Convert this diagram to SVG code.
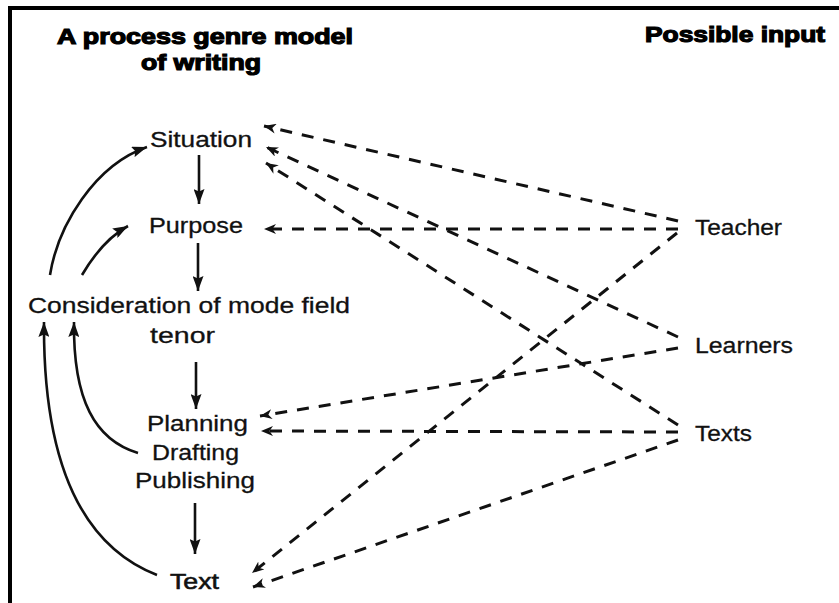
<svg xmlns="http://www.w3.org/2000/svg" width="839" height="603" viewBox="0 0 839 603">
<style>
.t{font-family:"Liberation Sans",Arial,sans-serif;font-size:22px;fill:#111;stroke:#111;stroke-width:0.3}
.h{font-family:"Liberation Sans",Arial,sans-serif;font-size:22px;font-weight:bold;fill:#000;stroke:#000;stroke-width:1.2}
.s{fill:none;stroke:#111;stroke-width:2.6;marker-end:url(#as)}
.d{fill:none;stroke:#111;stroke-width:3;stroke-dasharray:12 10;marker-end:url(#ad)}
</style>
<defs>
<marker id="as" markerUnits="userSpaceOnUse" viewBox="0 0 15 11" refX="15" refY="5.5" markerWidth="15" markerHeight="11" orient="auto">
<path d="M0,0 L15,5.5 L0,11 L2.5,5.5 z" fill="#111"/>
</marker>
<marker id="ad" markerUnits="userSpaceOnUse" viewBox="0 0 12 10" refX="12" refY="5" markerWidth="12" markerHeight="10" orient="auto">
<path d="M0,0 L12,5 L0,10 L3.5,5 z" fill="#111"/>
</marker>
</defs>
<rect width="839" height="603" fill="#fff"/>
<rect x="8" y="6" width="831" height="4" fill="#000"/>
<rect x="8" y="6" width="4" height="597" fill="#000"/>

<g id="title">
<text class="h" x="57" y="44" textLength="296" lengthAdjust="spacingAndGlyphs">A process genre model</text>
<text class="h" x="141" y="70" textLength="120" lengthAdjust="spacingAndGlyphs">of writing</text>
</g>
<g id="input-title">
<text class="h" x="645" y="42" textLength="180" lengthAdjust="spacingAndGlyphs">Possible input</text>
</g>

<g id="situation"><text class="t" x="150" y="147" textLength="102" lengthAdjust="spacingAndGlyphs">Situation</text></g>
<g id="purpose"><text class="t" x="149" y="233" textLength="94" lengthAdjust="spacingAndGlyphs">Purpose</text></g>
<g id="consideration">
<text class="t" x="28" y="313" textLength="322" lengthAdjust="spacingAndGlyphs">Consideration of mode field</text>
<text class="t" x="150" y="343" textLength="65" lengthAdjust="spacingAndGlyphs">tenor</text>
</g>
<g id="planning">
<text class="t" x="147" y="431" textLength="101" lengthAdjust="spacingAndGlyphs">Planning</text>
<text class="t" x="152" y="460" textLength="87" lengthAdjust="spacingAndGlyphs">Drafting</text>
<text class="t" x="135" y="488" textLength="120" lengthAdjust="spacingAndGlyphs">Publishing</text>
</g>
<g id="text"><text class="t" x="170" y="589" textLength="49" lengthAdjust="spacingAndGlyphs" style="stroke-width:0.6">Text</text></g>
<g id="teacher"><text class="t" x="695" y="235" textLength="87" lengthAdjust="spacingAndGlyphs">Teacher</text></g>
<g id="learners"><text class="t" x="695" y="353" textLength="98" lengthAdjust="spacingAndGlyphs">Learners</text></g>
<g id="texts"><text class="t" x="695" y="441" textLength="57" lengthAdjust="spacingAndGlyphs">Texts</text></g>

<g id="connectors">
<path class="s" d="M199,155 L199,204"/>
<path class="s" d="M198,243 L198,291"/>
<path class="s" d="M196,362 L196,409"/>
<path class="s" d="M195,503 L195,554"/>
<path class="s" d="M50,275 C58,225 95,165 147,147"/>
<path class="s" d="M82,275 C92,258 108,237 128,226"/>
<path class="s" d="M138,453 C95,440 73,400 74,322"/>
<path class="s" d="M157,575 C80,545 43,460 44,322"/>

<path class="d" d="M678,221 L264,126"/>
<path class="d" d="M678,229 L264,229"/>
<path class="d" d="M677,233 L252,573"/>
<path class="d" d="M678,337 L266,147"/>
<path class="d" d="M678,348 L260,416"/>
<path class="d" d="M678,425 L266,163"/>
<path class="d" d="M678,432 L261,431"/>
<path class="d" d="M678,440 L253,587"/>
</g>
</svg>
